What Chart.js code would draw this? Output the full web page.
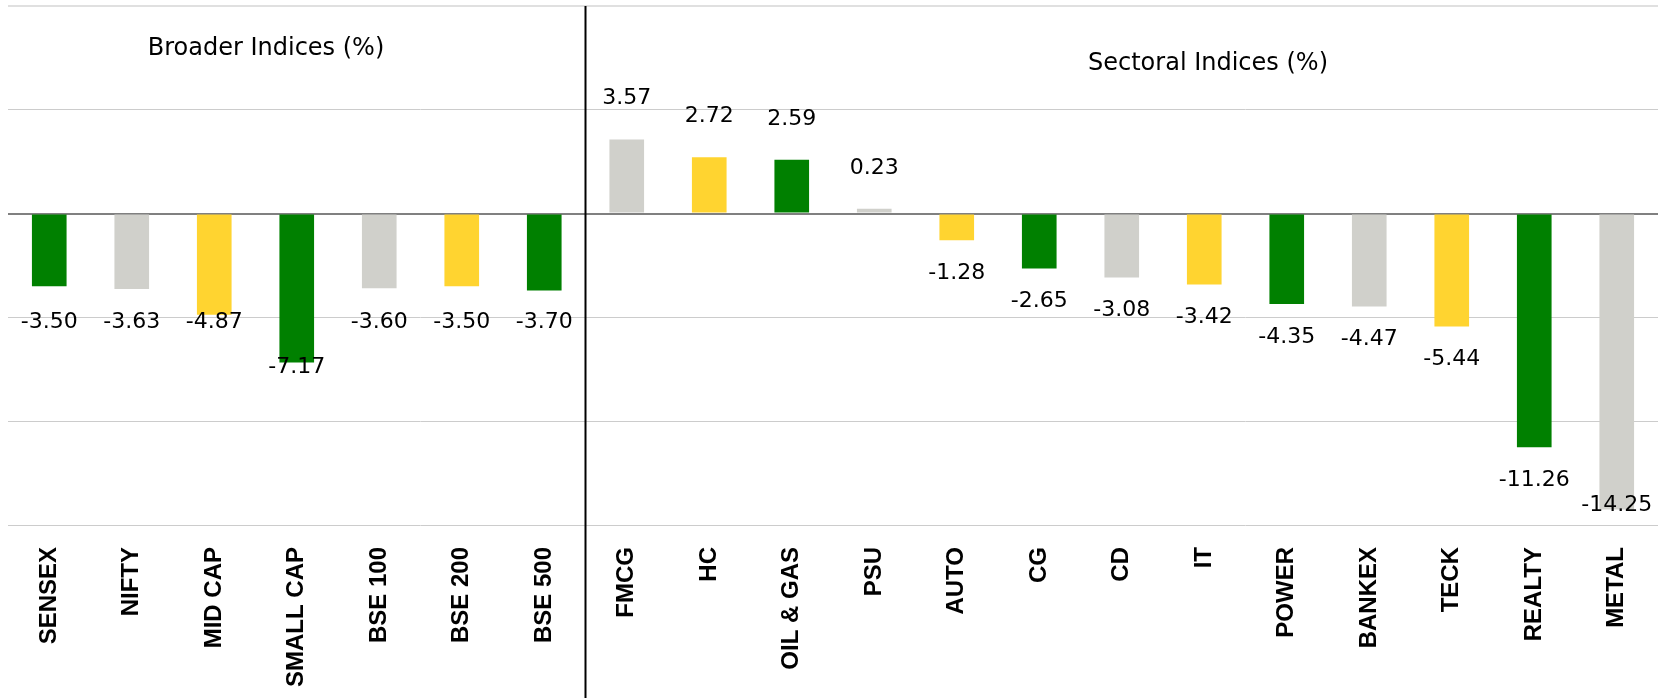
<!DOCTYPE html>
<html>
<head>
<meta charset="utf-8">
<script src="https://cdn.jsdelivr.net/npm/chart.js@4"></script>
<style>
  html, body { margin: 0; padding: 0; background: #fff; }
  #wrap { width: 1662px; height: 698px; position: relative; }
</style>
</head>
<body>
<div id="wrap"><canvas id="indexChart"></canvas></div>
<script>
const broaderNames = ["SENSEX", "NIFTY", "MID CAP", "SMALL CAP", "BSE 100", "BSE 200", "BSE 500"];
const broaderValues = [-3.50, -3.63, -4.87, -7.17, -3.60, -3.50, -3.70];
const sectorNames = ["FMCG", "HC", "OIL & GAS", "PSU", "AUTO", "CG", "CD", "IT", "POWER", "BANKEX", "TECK", "REALTY", "METAL"];
const sectorValues = [3.57, 2.72, 2.59, 0.23, -1.28, -2.65, -3.08, -3.42, -4.35, -4.47, -5.44, -11.26, -14.25];
const palette = ["#008000", "#D0D0CB", "#FFD430"];
const titles = ["Broader Indices (%)", "Sectoral Indices (%)"];

const labels = broaderNames.concat(sectorNames);
const values = broaderValues.concat(sectorValues);
const colors = values.map((v, i) => palette[i % 3]);
const nBroad = broaderNames.length;

const valueFont = "22px 'DejaVu Sans'";
const titleFont = "24px 'DejaVu Sans'";

const extras = {
  id: 'extras',
  afterDatasetsDraw(chart) {
    const c = chart.ctx;
    const y = chart.scales.y;
    const area = chart.chartArea;
    const bars = chart.getDatasetMeta(0).data;

    // value labels
    c.save();
    c.font = valueFont;
    c.fillStyle = '#000';
    c.textAlign = 'center';
    c.textBaseline = 'middle';
    bars.forEach((bar, i) => {
      const v = values[i];
      let ly;
      if (v >= 0) {
        ly = bar.y - 41;
      } else if (i < nBroad) {
        ly = Math.max(bar.y, y.getPixelForValue(-5)) + 5;
      } else {
        ly = bar.y + 33;
      }
      ly = Math.min(ly, area.bottom - 20);
      c.fillText(v.toFixed(2), bar.x, ly);
    });

    // separator between the two groups
    const sx = (bars[nBroad - 1].x + bars[nBroad].x) / 2;
    c.strokeStyle = '#000';
    c.lineWidth = 2;
    c.beginPath();
    c.moveTo(sx, area.top);
    c.lineTo(sx, chart.height);
    c.stroke();

    // group titles
    c.font = titleFont;
    c.fillText(titles[0], 266, 49);
    c.fillText(titles[1], 1208, 64);
    c.restore();
  }
};

new Chart(document.getElementById('indexChart'), {
  type: 'bar',
  data: {
    labels: labels,
    datasets: [{
      data: values,
      backgroundColor: colors,
      barPercentage: 0.42,
      categoryPercentage: 1
    }]
  },
  options: {
    responsive: true,
    maintainAspectRatio: false,
    animation: false,
    layout: { padding: { left: 8, right: 4, top: 6, bottom: 0 } },
    plugins: {
      legend: { display: false },
      tooltip: { enabled: false }
    },
    scales: {
      x: {
        grid: { display: false },
        border: { display: false },
        ticks: {
          minRotation: 90,
          maxRotation: 90,
          padding: 14,
          color: '#000',
          font: { family: "'Liberation Sans', Arial", size: 24, weight: 'bold' }
        },
        afterFit(scale) { scale.height = 173; }
      },
      y: {
        min: -15,
        max: 10,
        border: { display: false },
        ticks: { display: false, stepSize: 5 },
        grid: {
          drawTicks: false,
          color: ctx => ctx.tick.value === 0 ? '#808080' : (ctx.tick.value === 10 ? '#E0E0E0' : '#CCCCCC'),
          lineWidth: ctx => (ctx.tick.value === 0 || ctx.tick.value === 10) ? 2 : 1
        },
        afterFit(scale) { scale.width = 0; }
      }
    }
  },
  plugins: [extras]
});
</script>
</body>
</html>
